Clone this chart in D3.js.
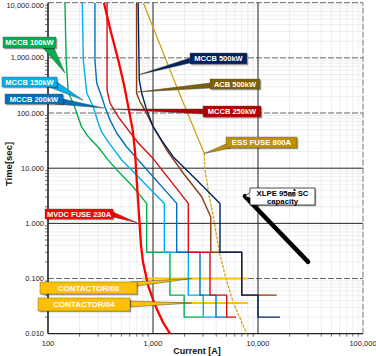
<!DOCTYPE html>
<html><head><meta charset="utf-8">
<script src="https://cdn.jsdelivr.net/npm/d3@7"></script>
<style>body{margin:0;background:#fff}svg{display:block}</style>
</head><body>
<svg id="c" width="376" height="356"></svg>
<script>
// ---------- DATA (current [A], time [s]) ----------
const xTickValues = [100, 1000, 10000, 100000];
const yTickValues = [0.01, 0.1, 1, 10, 100, 1000, 10000];

const mccb100 = [[145,10000],[149,900],[156,231],[174,152],[188,99],[209,56],[242,37],[301,24],[375,14],[454,9.3],[645,4.6],[871,2.3],[871,0.3],[1450,0.3],[1450,0.05],[1980,0.05],[1980,0.02],[3000,0.02]];
const mccb150 = [[212,10000],[217,900],[234,231],[270,129],[301,66],[325,45],[375,30],[504,14.1],[1282,2.3],[1282,0.3],[2169,0.3],[2169,0.05],[3013,0.05],[3013,0.02],[3980,0.02]];
const mccb200 = [[280,10000],[280,900],[291,350],[325,195],[349,129],[389,75],[451,43.5],[562,24.2],[724,14.1],[1681,2.3],[1681,0.3],[2803,0.3],[2803,0.05],[3980,0.05],[3980,0.02],[5035,0.02]];
const mccb250 = [[365,10000],[365,262],[389,152],[467,85],[582,49],[724,28.6],[972,16],[2169,2.3],[2169,0.3],[3490,0.3],[3490,0.05],[5035,0.05],[5035,0.02],[6173,0.02]];
const acb500  = [[697,10000],[697,228],[752,160],[839,113],[1006,56],[1350,21.4],[1944,8.1],[2910,3.04],[3550,1.3],[3550,0.3],[7000,0.3],[7000,0.05],[15070,0.05]];
const mccb500 = [[722,10000],[740,400],[780,231],[871,113],[1006,56],[1210,32],[1561,16],[2606,6.1],[4345,2.3],[4345,0.3],[7000,0.3],[7000,0.05],[10000,0.05],[10000,0.02],[16200,0.02]];
const mvdcFuse = [[341,10000],[400,2800],[467,915],[530,322],[590,113],[640,50],[674,20],[700,6],[730,1.8],[769,0.4],[803,0.2],[896,0.076],[1045,0.033],[1245,0.016],[1452,0.01]];
const essFuseUpper = [[808,10000],[1730,262],[3080,18.5]];
const essFuseLower = [[3080,18.5],[3128,9.3],[3413,3.3],[3726,1.42],[4070,0.54],[4345,0.27],[4850,0.116],[5780,0.038],[7800,0.01]];
const contactor08 = [[800,0.1],[8000,0.1]];
const contactor04 = [[800,0.036],[8000,0.036]];
const xlpeCapacity = [[7500,3.1],[30000,0.2]];

const labelTexts = ['MCCB 100kW','MCCB 150kW','MCCB 200kW','MCCB 500kW','ACB 500kW','MCCB 250kW','ESS FUSE 800A','MVDC FUSE 230A','CONTACTOR/08','CONTACTOR/04'];
const labelTips  = [[145,532],[215,172],[341,123],[722,490],[710,240],[389,118],[3080,18.5],[704,1.03],[2337,0.1],[2337,0.036]];
const xlpeLabel = ['XLPE 95㎟ SC','capacity'];

// ---------- LAYOUT / STYLE ----------
const svg = d3.select('#c');
const x = d3.scaleLog().domain([100,100000]).range([48,363]);
const y = d3.scaleLog().domain([0.01,10000]).range([333.7,2.7]);
const FONT = "'Liberation Sans', Arial, 'Noto Sans CJK KR', sans-serif";

const labelBoxes = [
  {x:3,  y:37, w:53, h:11, fill:'#00B050', base:[[43,48],[54,48]], fs:7.5},
  {x:2,  y:77, w:55, h:10, fill:'#00B0F0', base:[[49,87],[57,82]], fs:7.5},
  {x:5,  y:94, w:58, h:10, fill:'#0070C0', base:[[55,104],[63,99]], fs:7.5},
  {x:190,y:53, w:57, h:11, fill:'#002060', base:[[190,58],[190,63]], fs:7.5},
  {x:210,y:79, w:50, h:10, fill:'#7F6000', base:[[210,83],[210,88]], fs:7.5},
  {x:203,y:106,w:58, h:11, fill:'#B00000', base:[[203,109],[203,114]], fs:7.5},
  {x:226,y:137,w:71, h:11, fill:'#BF9000', base:[[226,144],[231,148]], fs:7.8},
  {x:45, y:209,w:68, h:10, fill:'#FF0000', base:[[113,212],[113,217]], fs:7.5},
  {x:40, y:282,w:97, h:12, fill:'#FFC000', base:[[130,282],[137,286]], fs:8},
  {x:38, y:298,w:92, h:13, fill:'#FFC000', base:[[130,301],[130,307]], fs:8}
];

// minor grid
const minorX=[]; [100,1000,10000].forEach(d=>{for(let m=2;m<10;m++)minorX.push(d*m);});
const minorY=[]; [0.01,0.1,1,10,100,1000].forEach(d=>{for(let m=2;m<10;m++)minorY.push(d*m);});
const g = svg.append('g');
g.selectAll('.mx').data(minorX).join('line').attr('x1',d=>x(d)).attr('x2',d=>x(d)).attr('y1',y(0.01)).attr('y2',y(10000)).attr('stroke','#e6e6e6').attr('stroke-width',0.7);
g.selectAll('.my').data(minorY).join('line').attr('y1',d=>y(d)).attr('y2',d=>y(d)).attr('x1',x(100)).attr('x2',x(100000)).attr('stroke','#e6e6e6').attr('stroke-width',0.7);

// major grid
const hStyle = {10000:'dash',1000:'dash',100:'dash',10:'solid',1:'solid',0.1:'dash',0.01:'axis'};
yTickValues.forEach(v=>{
  const s=hStyle[v];
  g.append('line').attr('x1',x(100)).attr('x2',x(100000)).attr('y1',y(v)).attr('y2',y(v))
   .attr('stroke', s==='dash'?'#666':'#222').attr('stroke-width', s==='axis'?1.2:1)
   .attr('stroke-dasharray', s==='dash'?'6,2':null);
});
const vStyle = {100:'axis',1000:'solid',10000:'solid',100000:'dash'};
xTickValues.forEach(v=>{
  const s=vStyle[v];
  g.append('line').attr('x1',x(v)).attr('x2',x(v)).attr('y1',y(0.01)).attr('y2',y(10000))
   .attr('stroke', s==='dash'?'#777':'#222').attr('stroke-width', s==='axis'?1.6:1)
   .attr('stroke-dasharray', s==='dash'?'6,2':null);
});
// small ticks
g.selectAll('.ty').data(minorY).join('line').attr('x1',x(100)-3).attr('x2',x(100)).attr('y1',d=>y(d)).attr('y2',d=>y(d)).attr('stroke','#333').attr('stroke-width',0.7);
g.selectAll('.tx').data(minorX).join('line').attr('y1',y(0.01)).attr('y2',y(0.01)+3).attr('x1',d=>x(d)).attr('x2',d=>x(d)).attr('stroke','#333').attr('stroke-width',0.7);

// tick labels
const fy = d3.format(',.3f'), fx = d3.format(',');
g.selectAll('.yl').data(yTickValues).join('text').attr('x',44).attr('y',d=>Math.max(y(d),5.5)).attr('dy','0.35em')
 .attr('text-anchor','end').attr('font-family',FONT).attr('font-size',7.5).attr('fill','#222').text(d=>fy(d));
g.selectAll('.xl').data(xTickValues).join('text').attr('x',d=>x(d)).attr('y',345.5)
 .attr('text-anchor','middle').attr('font-family',FONT).attr('font-size',7.5).attr('fill','#222').text(d=>fx(d));

// axis titles
svg.append('text').attr('x',197).attr('y',354).attr('text-anchor','middle').attr('font-family',FONT)
 .attr('font-weight','bold').attr('font-size',9).attr('fill','#111').text('Current [A]');
svg.append('text').attr('transform','translate(12,164) rotate(-90)').attr('text-anchor','middle').attr('font-family',FONT)
 .attr('font-weight','bold').attr('font-size',9.5).attr('fill','#111').text('Time[sec]');

// curves
svg.append('clipPath').attr('id','pc').append('rect').attr('x',x(100)).attr('y',y(10000)).attr('width',x(100000)-x(100)).attr('height',y(0.01)-y(10000));
const cg = svg.append('g').attr('clip-path','url(#pc)');
const line = d3.line().x(d=>x(d[0])).y(d=>y(d[1]));
const series = [
  {d:essFuseUpper, c:'#D4A017', w:1.3},
  {d:essFuseLower, c:'#D4A017', w:1.3, dash:'3,1.2'},
  {d:contactor08, c:'#FFC000', w:2},
  {d:contactor04, c:'#FFC000', w:2},
  {d:mccb100, c:'#00B050', w:1.4},
  {d:mccb150, c:'#00B0F0', w:1.4},
  {d:mccb200, c:'#0070C0', w:1.4},
  {d:mccb250, c:'#D01010', w:1.4},
  {d:acb500,  c:'#8B3A0F', w:1.4},
  {d:mccb500, c:'#002060', w:1.4},
  {d:mvdcFuse, c:'#FF0000', w:2.3}
];
series.forEach(s=>{
  cg.append('path').attr('d',line(s.d)).attr('fill','none').attr('stroke',s.c).attr('stroke-width',s.w)
    .attr('stroke-linejoin','round').attr('stroke-dasharray',s.dash||null);
});
cg.append('path').attr('d',line(xlpeCapacity)).attr('fill','none').attr('stroke','#000').attr('stroke-width',4.5).attr('stroke-linecap','round');

// callouts
const lg = svg.append('g');
labelTexts.forEach((t,i)=>{
  const b = labelBoxes[i], tip=[x(labelTips[i][0]), y(labelTips[i][1])];
  const pts = [b.base[0], tip, b.base[1]];
  lg.append('polygon').attr('points',pts.map(p=>p.join(',')).join(' ')).attr('fill',b.fill).attr('stroke','#444').attr('stroke-width',0.5).attr('stroke-linejoin','round');
  lg.append('rect').attr('x',b.x+1.3).attr('y',b.y+1.3).attr('width',b.w).attr('height',b.h).attr('fill','rgba(0,0,0,0.35)');
  lg.append('rect').attr('x',b.x).attr('y',b.y).attr('width',b.w).attr('height',b.h).attr('fill',b.fill).attr('stroke','#555').attr('stroke-width',0.4);
  lg.append('text').attr('x',b.x+b.w/2).attr('y',b.y+b.h/2).attr('dy','0.36em').attr('text-anchor','middle')
    .attr('font-family',FONT).attr('font-weight','bold').attr('font-size',b.fs).attr('fill','#fff').text(t);
});
// XLPE label
const xb = {x:250,y:188,w:65,h:17};
const xt = [x(xlpeCapacity[0][0]), y(xlpeCapacity[0][1])];
lg.append('rect').attr('x',xb.x+1.3).attr('y',xb.y+1.3).attr('width',xb.w).attr('height',xb.h).attr('fill','rgba(0,0,0,0.3)');
lg.append('polygon').attr('points',[[xb.x+0.5,xb.y+4],xt,[xb.x+0.5,xb.y+10]].map(p=>p.join(',')).join(' ')).attr('fill','#fff').attr('stroke','#000').attr('stroke-width',0.7);
lg.append('rect').attr('x',xb.x).attr('y',xb.y).attr('width',xb.w).attr('height',xb.h).attr('fill','#fff').attr('stroke','#000').attr('stroke-width',0.7);
lg.append('rect').attr('x',xb.x-0.3).attr('y',xb.y+4.3).attr('width',1.2).attr('height',5.4).attr('fill','#fff');
xlpeLabel.forEach((t,i)=>{
  lg.append('text').attr('x',xb.x+xb.w/2).attr('y',xb.y+5.5+i*7.5).attr('dy','0.35em').attr('text-anchor','middle')
   .attr('font-family',FONT).attr('font-weight','bold').attr('font-size',7.8).attr('fill','#000').text(t);
});
</script>
</body></html>
